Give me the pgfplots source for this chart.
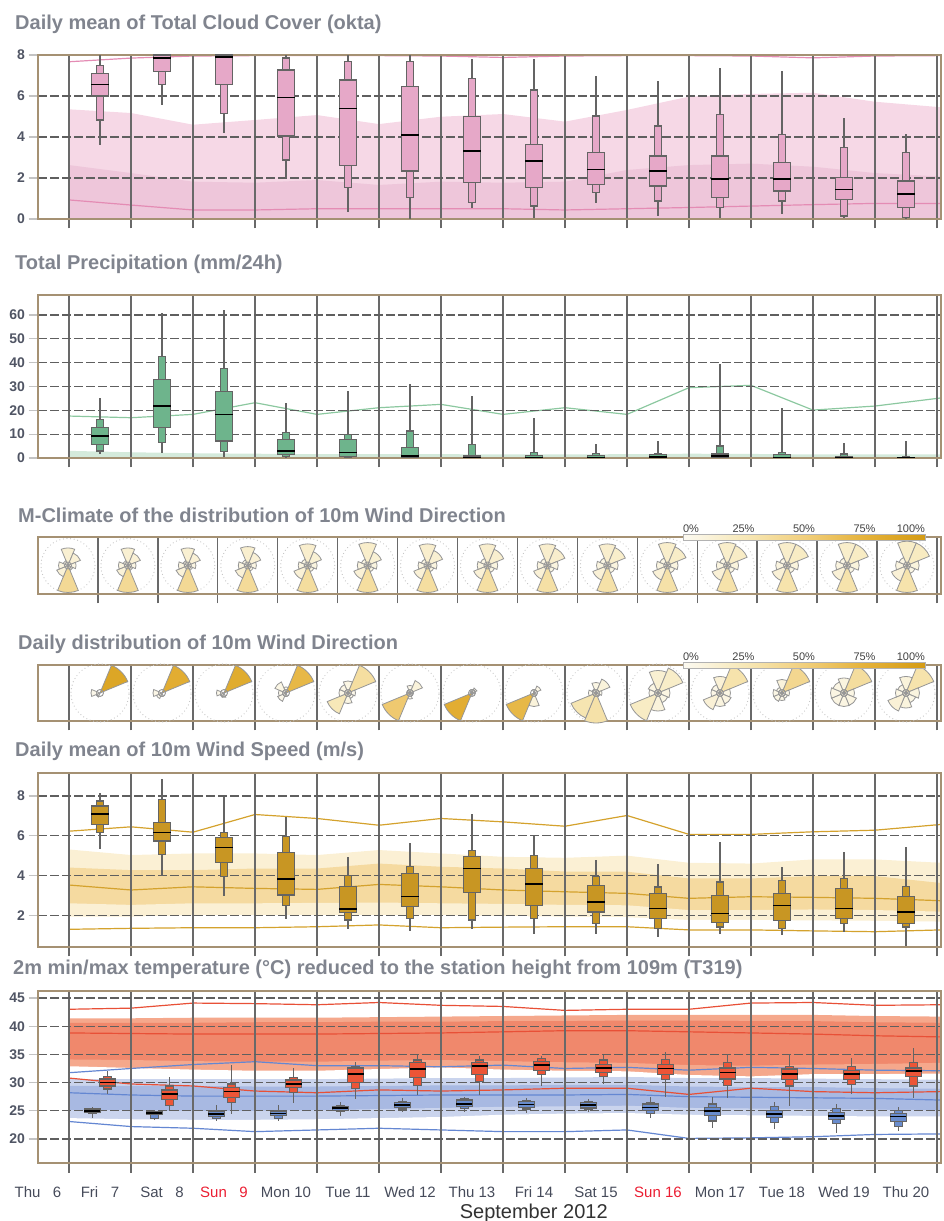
\documentclass[border=0pt]{standalone}
\usepackage{pgfplots}
\pgfplotsset{compat=1.18}
\usepackage{pgfplotstable}
\usepgfplotslibrary{statistics}
\usepackage{fontspec}
\setmainfont{Liberation Sans}

% ---------- colours ----------
\definecolor{framec}{RGB}{165,145,115}
\definecolor{vgrid}{RGB}{105,105,105}
\definecolor{hgrid}{RGB}{95,95,95}
\definecolor{ytickc}{RGB}{195,195,195}
\definecolor{ticktext}{RGB}{80,85,100}
\definecolor{titlec}{RGB}{128,132,142}
\definecolor{boxline}{RGB}{100,100,100}
\definecolor{cloudbox}{RGB}{230,168,200}
\definecolor{cloudlt}{RGB}{246,216,230}
\definecolor{clouddk}{RGB}{238,198,218}
\definecolor{cloudln}{RGB}{228,140,180}
\definecolor{precbox}{RGB}{110,180,140}
\definecolor{preclt}{RGB}{212,234,219}
\definecolor{precln}{RGB}{140,200,160}
\definecolor{windbox}{RGB}{200,150,35}
\definecolor{windlt}{RGB}{251,240,212}
\definecolor{winddk}{RGB}{245,218,160}
\definecolor{windln}{RGB}{212,162,45}
\definecolor{tmaxbox}{RGB}{236,85,55}
\definecolor{tminbox}{RGB}{105,140,205}
\definecolor{redlt}{RGB}{245,168,140}
\definecolor{reddk}{RGB}{240,136,108}
\definecolor{redln}{RGB}{232,80,55}
\definecolor{bluelt}{RGB}{202,212,237}
\definecolor{bluedk}{RGB}{168,185,226}
\definecolor{blueln}{RGB}{100,135,210}
\definecolor{rosegray}{RGB}{150,150,150}
\definecolor{sunred}{RGB}{235,30,50}
\definecolor{xlabc}{RGB}{70,75,90}
\definecolor{septc}{RGB}{50,50,50}

% ---------- ensemble statistics per day ----------
\pgfplotstableread{
x  min  p10  p25  med  p75  p90  max
1  3.60 4.83 6.00 6.55 7.10 7.50 8.00
2  5.55 6.55 7.20 7.85 8.00 8.00 8.00
3  4.20 5.15 6.55 7.90 8.00 8.00 8.00
4  2.00 2.88 4.05 5.92 7.27 7.85 8.00
5  0.36 1.53 2.59 5.40 6.78 7.67 8.00
6  0.00 1.04 2.34 4.10 6.45 7.67 8.00
7  0.54 0.81 1.77 3.32 4.99 6.86 7.79
8  0.05 0.63 1.53 2.83 3.64 6.29 7.79
9  0.77 1.28 1.69 2.42 3.24 5.02 6.98
10 0.15 0.88 1.61 2.34 3.07 4.54 6.73
11 0.05 0.55 1.04 1.94 3.07 5.11 7.38
12 0.23 0.88 1.37 1.94 2.75 4.13 7.22
13 0.05 0.15 0.96 1.45 2.02 3.48 4.94
14 0.00 0.06 0.55 1.22 1.85 3.24 4.13
}\cloudens

\pgfplotstableread{
x  min  p10  p25  med  p75  p90  max
1  1.5  2.9  5.7  9.2  12.7 16.2 25.3
2  2.0  6.4  12.7 21.8 33.0 42.5 60.7
3  0.5  2.7  7.1  18.3 27.8 37.6 62.1
4  0.4  0.5  1.5  2.9  7.8  10.6 23.2
5  0.0  0.2  0.5  2.2  7.8  9.9  28.1
6  0.0  0.1  0.3  0.8  4.3  11.3 30.9
7  0.0  0.0  0.1  0.3  0.8  5.7  26.0
8  0.0  0.0  0.1  0.2  1.0  2.2  16.9
9  0.0  0.0  0.1  0.3  1.0  1.9  5.7
10 0.0  0.0  0.2  0.5  1.3  1.9  7.1
11 0.0  0.0  0.2  0.8  1.7  5.0  39.3
12 0.0  0.0  0.1  0.3  1.3  2.2  21.1
13 0.0  0.0  0.1  0.2  0.5  1.7  6.4
14 0.0  0.0  0.0  0.1  0.2  0.5  7.1
}\precens

\pgfplotstableread{
x  min  p10  p25  med  p75  p90  max
1  5.31 6.17 6.57 7.09 7.50 7.75 8.13
2  3.98 5.06 5.74 6.17 6.68 7.82 8.88
3  2.98 3.93 4.64 5.41 5.91 6.17 7.95
4  1.79 2.48 3.02 3.82 5.14 5.98 6.92
5  1.31 1.76 2.13 2.31 3.43 3.98 4.94
6  1.22 1.84 2.43 2.93 4.10 4.44 5.66
7  1.31 1.76 3.15 4.36 4.94 5.24 7.09
8  1.07 1.82 2.49 3.58 4.34 5.01 5.98
9  1.07 1.57 2.16 2.66 3.50 3.93 4.77
10 0.90 1.32 1.82 2.33 3.08 3.42 4.60
11 1.07 1.41 1.64 2.08 3.00 3.67 5.69
12 0.98 1.32 1.74 2.49 3.08 3.75 4.44
13 1.16 1.57 1.82 2.33 3.33 3.83 5.18
14 0.45 1.41 1.59 2.16 2.93 3.43 5.43
}\windens

\pgfplotstableread{
x  min   p10   p25   med   p75   p90   max
1  23.8  24.6  24.7  25.0  25.3  25.4  25.7
2  23.5  23.6  24.4  24.65 24.85 24.9  25.0
3  23.2  23.6  23.95 24.4  24.85 25.0  26.0
4  23.2  23.7  24.1  24.5  24.85 25.0  26.0
5  24.1  24.9  25.1  25.45 25.7  25.9  26.6
6  24.7  25.3  25.55 26.0  26.5  26.7  27.2
7  24.7  25.4  25.7  26.2  26.9  27.1  27.5
8  24.55 25.3  25.55 26.15 26.6  26.8  27.2
9  24.7  25.3  25.5  26.0  26.5  26.7  27.1
10 23.8  24.55 25.0  25.6  26.2  26.5  27.5
11 22.0  23.2  24.1  24.96 25.6  26.2  27.5
12 21.7  22.9  23.8  24.4  25.1  25.7  26.5
13 21.1  22.7  23.4  24.1  24.7  25.45 26.15
14 21.4  22.2  23.1  23.95 24.55 25.1  25.7
}\tminens

\pgfplotstableread{
x  min   p10   p25   med   p75   p90   max
1  27.9  28.87 29.4  30.05 30.64 31.05 32.1
2  25.0  25.9  27.04 28.0  28.7  29.4  31.05
3  24.4  26.5  27.4  28.39 29.17 29.75 33.1
4  26.3  28.3  29.1  29.75 30.46 30.9  32.5
5  27.04 28.9  30.05 31.5  32.6  32.9  33.7
6  27.8  29.5  30.9  32.4  33.5  34.0  34.9
7  27.8  30.2  31.5  32.9  33.5  34.0  34.7
8  29.4  31.5  32.2  33.1  33.7  34.3  34.7
9  29.7  31.05 31.75 32.6  33.2  34.0  34.9
10 27.5  30.6  31.5  32.5  33.2  34.1  35.5
11 27.3  29.5  30.64 31.75 32.6  33.5  35.0
12 25.85 29.4  30.6  31.5  32.4  32.9  35.0
13 27.9  29.7  30.6  31.5  32.2  32.9  34.4
14 27.3  29.4  31.05 32.06 32.6  33.5  36.2
}\tmaxens

% ---------- model climate ----------
\pgfplotstableread{
x      mx   med  q75  q90
0.5    7.67 0.93 2.63 5.35
1.5    7.85 0.68 2.24 5.17
2.5    7.95 0.44 1.82 4.60
3.5    7.97 0.44 1.77 4.83
4.5    7.97 0.50 1.90 5.07
5.5    7.97 0.50 1.66 4.63
6.5    7.95 0.50 1.82 4.99
7.5    7.88 0.50 1.77 5.12
8.5    7.95 0.44 1.82 4.75
9.5    7.97 0.50 2.39 5.32
10.5   7.97 0.56 2.63 5.97
11.5   7.95 0.63 2.70 6.10
12.5   7.86 0.70 2.55 6.16
13.5   7.95 0.76 2.24 5.72
14.565 7.97 0.76 2.07 5.45
}\cloudclim

\pgfplotstableread{
x      hi  top
0.5    3.0 17.6
1.5    2.4 16.9
2.5    2.0 18.3
3.5    1.8 23.2
4.5    1.6 18.3
5.5    1.6 21.1
6.5    1.6 22.5
7.5    1.5 18.3
8.5    1.5 21.1
9.5    1.6 18.3
10.5   1.8 29.5
11.5   1.7 30.5
12.5   1.5 20.1
13.5   1.5 21.8
14.565 1.5 25.2
}\precclim

\pgfplotstableread{
x      mn   lo90 lo75 med  hi75 hi90 mx
0.5    1.29 1.93 2.60 3.52 4.40 5.31 6.23
1.5    1.34 1.93 2.52 3.27 4.27 5.03 6.45
2.5    1.37 2.01 2.60 3.43 4.27 5.11 6.18
3.5    1.37 2.01 2.60 3.35 4.35 5.11 7.07
4.5    1.42 2.01 2.62 3.30 4.35 5.03 6.87
5.5    1.51 2.01 2.64 3.55 4.60 5.28 6.53
6.5    1.37 2.01 2.60 3.43 4.44 5.11 6.87
7.5    1.40 1.96 2.57 3.27 4.35 4.94 6.70
8.5    1.42 1.93 2.52 3.18 4.20 4.89 6.48
9.5    1.42 1.90 2.50 3.10 4.19 5.00 7.02
10.5   1.26 1.76 2.26 2.85 3.85 4.64 6.07
11.5   1.26 1.76 2.26 2.93 3.85 4.60 6.07
12.5   1.21 1.74 2.29 2.90 3.97 4.81 6.20
13.5   1.17 1.72 2.26 2.85 3.97 4.81 6.28
14.565 1.26 1.68 2.18 2.73 3.62 4.64 6.57
}\windclim

\pgfplotstableread{
x      rmn   rlo90 rlo75 rmed rhi75 rhi90 rmx  bmn  blo90 blo75 bmed bhi75 bhi90 bmx
0.5    30.8  32.9  34.1  38.8 40.6  41.4  43.0 23.1 23.7  25.1  28.2 29.4  30.6  31.75
1.5    29.75 32.6  34.0  38.7 40.6  41.4  43.2 22.2 23.5  25.1  27.8 29.4  30.6  32.5
2.5    29.4  32.3  33.8  38.6 40.6  41.5  44.1 21.9 23.4  25.0  27.6 29.4  30.6  33.2
3.5    28.5  32.1  33.7  38.6 40.7  41.5  44.0 21.3 23.4  25.0  27.6 29.3  30.6  33.7
4.5    28.2  32.1  33.7  38.6 40.7  41.5  43.8 21.6 23.5  25.1  27.6 29.3  30.6  33.0
5.5    28.7  32.4  33.9  38.7 40.8  41.6  44.2 21.9 23.7  25.3  27.7 29.4  30.7  33.0
6.5    28.5  32.7  34.0  38.8 40.8  41.7  43.7 21.6 23.9  25.5  27.8 29.5  30.8  32.8
7.5    28.7  32.3  33.8  39.0 40.9  41.8  43.5 21.3 24.3  25.7  27.8 29.5  30.8  33.1
8.5    29.0  32.1  33.6  39.2 40.9  41.9  42.8 21.3 24.5  25.8  27.8 29.6  30.9  32.5
9.5    29.0  32.0  33.5  39.2 41.0  42.0  43.0 21.6 24.6  25.9  27.9 29.6  31.0  32.7
10.5   27.9  31.35 33.1  39.0 41.0  42.0  43.0 20.1 24.3  25.5  27.5 29.3  30.8  32.2
11.5   29.0  31.1  33.0  38.8 40.9  42.0  44.1 20.2 24.2  25.4  27.4 29.2  30.8  32.7
12.5   28.4  31.5  33.2  38.6 40.9  42.0  44.2 20.4 24.1  25.3  27.3 29.2  30.7  32.5
13.5   28.2  31.5  33.3  38.3 40.7  41.8  43.7 20.8 24.0  25.2  27.2 29.0  30.6  32.2
14.565 28.4  31.6  33.5  38.1 40.6  41.7  43.8 20.9 24.0  25.1  26.9 28.9  30.5  32.1
}\tempclim

% ---------- wind direction roses (r: share of longest petal, p: frequency in %) ----------
\pgfplotstableread{
x    rN   rNE  rE   rSE  rS rSW  rW   rNW  pN pNE pE pSE pS pSW pW pNW
0.5  0.65 0.50 0.30 0.20 1  0.45 0.35 0.20 14 12  7  5   40 11  8  5
1.5  0.65 0.50 0.30 0.20 1  0.45 0.35 0.20 14 12  7  5   40 11  8  5
2.5  0.65 0.50 0.30 0.20 1  0.47 0.35 0.20 14 12  7  5   40 11  8  5
3.5  0.70 0.52 0.32 0.22 1  0.50 0.35 0.22 15 12  7  5   38 12  8  5
4.5  0.80 0.55 0.35 0.25 1  0.55 0.35 0.25 16 13  8  6   36 12  8  6
5.5  0.85 0.55 0.35 0.25 1  0.55 0.38 0.25 17 13  8  6   35 12  8  6
6.5  0.80 0.60 0.35 0.25 1  0.55 0.35 0.25 16 14  8  6   35 12  8  6
7.5  0.80 0.65 0.38 0.28 1  0.55 0.38 0.28 16 15  8  6   34 12  8  6
8.5  0.80 0.70 0.40 0.28 1  0.55 0.38 0.28 16 16  8  6   33 12  8  6
9.5  0.80 0.72 0.40 0.30 1  0.58 0.40 0.30 16 17  8  6   32 12  8  6
10.5 0.85 0.75 0.40 0.30 1  0.58 0.40 0.30 17 18  8  6   32 12  8  6
11.5 0.85 0.80 0.42 0.30 1  0.60 0.40 0.30 17 19  9  6   31 12  8  6
12.5 0.85 0.85 0.42 0.30 1  0.60 0.42 0.30 17 20  9  6   30 12  8  6
13.5 0.85 0.85 0.45 0.30 1  0.60 0.42 0.30 17 20  9  6   30 12  8  6
14.5 0.90 0.90 0.45 0.32 1  0.62 0.42 0.32 18 21  9  6   30 12  8  6
}\mclimrose

\pgfplotstableread{
x  rN   rNE  rE   rSE  rS   rSW  rW   rNW  pN pNE pE pSE pS pSW pW pNW
1  0    1    0    0    0    0.15 0.30 0    0  88  0  0   0  3   4  0
2  0    1    0    0    0.12 0.20 0.30 0    0  80  0  0   2  3   5  0
3  0    1    0    0    0.15 0.15 0.25 0    0  82  0  0   2  2   4  0
4  0.20 1    0    0    0.12 0.30 0.25 0.40 3  70  0  0   2  4   4  6
5  0.40 1    0.25 0.20 0.35 0.75 0.30 0.30 6  35  4  3   6  25  5  5
6  0.25 0.45 0.10 0.10 0.20 1    0.10 0.10 4  10  2  2   3  55  2  2
7  0.12 0.18 0.10 0    0.08 1    0    0.08 2  4   2  0   1  80  0  1
8  0.12 0.25 0    0.10 0.45 1    0    0    2  5   0  2   10 70  0  0
9  0.35 0.50 0.20 0.15 1    0.90 0.25 0.15 6  10  3  2   32 28  4  2
10 0.75 0.90 0.40 0.35 0.60 1    0.30 0.35 14 18  7  6   10 20  5  6
11 0.55 1    0.35 0.40 0.45 0.60 0.30 0.30 12 30  6  7   8  12  5  5
12 0.45 1    0.25 0.20 0.25 0.30 0.30 0.20 10 42  5  4   5  6   6  4
13 0.50 1    0.35 0.45 0.45 0.45 0.45 0.40 8  36  6  7   7  7   7  6
14 0.55 1    0.45 0.35 0.50 0.65 0.35 0.30 10 30  8  6   9  12  6  5
}\dailyrose

% ---------- plot marks and helpers ----------
\pgfdeclareplotmark{petal}{%
  \pgfmathsetmacro\petalA{90-\pdir-22.5}%
  \pgfmathsetmacro\petalB{90-\pdir+22.5}%
  \pgfpathmoveto{\pgfpointorigin}%
  \pgfpathlineto{\pgfpointpolar{\petalA}{\prad pt}}%
  \pgfpatharc{\petalA}{\petalB}{\prad pt}%
  \pgfpathclose
  \pgfusepathqfillstroke
}

\pgfplotsset{
  colormap={windgold}{rgb255=(252,250,242) rgb255=(247,232,184) rgb255=(241,207,125) rgb255=(229,178,58) rgb255=(212,155,20)},
  panel/.style={
    scale only axis, width=903pt, anchor=south west,
    xmin=0, xmax=14.565,
    xtick={0.5,1.5,...,14.5}, xticklabels={},
    xmajorgrids, ymajorgrids,
    major x grid style={draw=vgrid, line width=1.4pt},
    major y grid style={draw=hgrid, line width=1.3pt, dash pattern=on 9pt off 3pt},
    axis line style={draw=framec, line width=1.5pt},
    tick align=outside, xtick pos=left, ytick pos=left,
    major tick length=9.5pt,
    x tick style={draw=vgrid, line width=1.4pt},
    y tick style={draw=ytickc, line width=1.3pt},
    /pgf/number format/assume math mode=true,
    yticklabel style={font=\bfseries\fontsize{14}{16}\selectfont, text=ticktext},
  },
  bandaxis/.style={scale only axis, width=903pt, anchor=south west, xmin=0, xmax=14.565, hide axis},
  ensbox/.style={draw=boxline, line width=1.2pt,
    boxplot/draw direction=y,
    boxplot/whisker extend=0,
    boxplot/every median/.style={draw=black, line width=1.5pt},
    boxplot/every whisker/.style={draw=boxline}},
  roseaxis/.style={
    ymin=0, ymax=1, ytick=\empty, ymajorgrids=false,
    colormap name=windgold, point meta min=0, point meta max=100,
    colorbar horizontal,
    colorbar style={
      at={(parent axis.north east)}, anchor=south east, xshift=-16pt, yshift=5pt,
      scale only axis, width=242pt, height=6pt,
      xtick={0,25,50,75,100},
      xticklabels={\makebox[0pt][l]{0\%},25\%,50\%,75\%,\makebox[0pt][r]{100\%}},
      xticklabel pos=right, major tick length=0pt, ytick=\empty,
      xticklabel style={font=\fontsize{11}{13}\selectfont, text=black!75, inner sep=2pt},
      axis line style={draw=gray!60, line width=0.8pt},
    },
  },
}

% one petal direction for every rose of a table
\newcommand\petals[4]{%
  \addplot[scatter, only marks, mark=petal, line width=0.8pt,
    scatter/use mapped color={draw=rosegray, fill=mapped color},
    point meta=\thisrow{p#2},
    visualization depends on={#4*\thisrow{r#2} \as \prad},
    visualization depends on={#3 \as \pdir},
    restrict expr to domain={\thisrow{r#2}}{0.01:2}]
    table[x=x, y expr=0.5] {#1};
}
\newcommand\rose[2]{% #1 table, #2 radius of the longest petal
  \petals{#1}{N}{0}{#2}\petals{#1}{NE}{45}{#2}\petals{#1}{E}{90}{#2}\petals{#1}{SE}{135}{#2}%
  \petals{#1}{S}{180}{#2}\petals{#1}{SW}{225}{#2}\petals{#1}{W}{270}{#2}\petals{#1}{NW}{315}{#2}%
  \addplot[only marks, mark=o, mark size=3.5pt, mark options={draw=rosegray, line width=0.9pt}]
    table[x=x, y expr=0.5] {#1};
}

% ensemble box: whiskers min-max, narrow box p10-p90, wide box p25-p75, median line
\newcommand\ensboxes[5]{% #1 table, #2 x offset, #3 wide width, #4 narrow width, #5 fill
  \pgfplotstablegetrowsof{#1}%
  \pgfmathtruncatemacro\ensLast{\pgfplotsretval-1}%
  \pgfplotsforeachungrouped \ensI in {0,...,\ensLast}{%
    \pgfplotstablegetelem{\ensI}{x}\of{#1}\let\eX\pgfplotsretval
    \pgfplotstablegetelem{\ensI}{min}\of{#1}\let\eMin\pgfplotsretval
    \pgfplotstablegetelem{\ensI}{p10}\of{#1}\let\eTen\pgfplotsretval
    \pgfplotstablegetelem{\ensI}{p25}\of{#1}\let\eQa\pgfplotsretval
    \pgfplotstablegetelem{\ensI}{med}\of{#1}\let\eMed\pgfplotsretval
    \pgfplotstablegetelem{\ensI}{p75}\of{#1}\let\eQc\pgfplotsretval
    \pgfplotstablegetelem{\ensI}{p90}\of{#1}\let\eNin\pgfplotsretval
    \pgfplotstablegetelem{\ensI}{max}\of{#1}\let\eMax\pgfplotsretval
    \pgfmathsetmacro\ePos{\eX+(#2)}%
    \edef\ensCmd{%
      \noexpand\addplot[ensbox, boxplot/box extend=#4,
        boxplot/every box/.style={fill=#5,draw=boxline},
        boxplot/draw/median/.code={},
        boxplot prepared={draw position=\ePos, lower whisker=\eMin, lower quartile=\eTen,
          median=\eMed, upper quartile=\eNin, upper whisker=\eMax}] coordinates {};%
      \noexpand\addplot[ensbox, boxplot/box extend=#3,
        boxplot/every box/.style={fill=#5,draw=boxline},
        boxplot prepared={draw position=\ePos, lower whisker=\eQa, lower quartile=\eQa,
          median=\eMed, upper quartile=\eQc, upper whisker=\eQc}] coordinates {};%
    }%
    \ensCmd
  }%
}

\tikzset{paneltitle/.style={anchor=base west, inner sep=0pt, font=\bfseries\fontsize{20}{24}\selectfont, text=titlec}}

\begin{document}
\begin{tikzpicture}
\useasboundingbox (0pt,0pt) rectangle (943pt,1221pt);

% ---------------- titles ----------------
\node[paneltitle] at (15pt,1191pt) {Daily mean of Total Cloud Cover (okta)};
\node[paneltitle] at (15pt,951pt) {Total Precipitation (mm/24h)};
\node[paneltitle] at (18pt,698pt) {M-Climate of the distribution of 10m Wind Direction};
\node[paneltitle] at (18pt,571pt) {Daily distribution of 10m Wind Direction};
\node[paneltitle] at (15pt,464pt) {Daily mean of 10m Wind Speed (m/s)};
\node[paneltitle] at (13pt,246pt) {2m min/max temperature (°C) reduced to the station height from 109m (T319)};

% ---------------- cloud cover ----------------
\begin{axis}[bandaxis, at={(38pt,1002pt)}, height=164pt, ymin=0, ymax=8]
  \addplot[fill=cloudlt, draw=none] table[x=x, y=q90] {\cloudclim} \closedcycle;
  \addplot[fill=clouddk, draw=none] table[x=x, y=q75] {\cloudclim} \closedcycle;
  \addplot[cloudln, line width=1.2pt] table[x=x, y=med] {\cloudclim};
  \addplot[cloudln, line width=1.2pt] table[x=x, y=mx] {\cloudclim};
\end{axis}
\begin{axis}[panel, at={(38pt,1002pt)}, height=164pt, ymin=0, ymax=8, ytick={0,2,4,6,8}]
  \ensboxes{\cloudens}{0}{0.275}{0.12}{cloudbox}
\end{axis}

% ---------------- precipitation ----------------
\begin{axis}[bandaxis, at={(38pt,763pt)}, height=163pt, ymin=0, ymax=68.4]
  \addplot[fill=preclt, draw=none] table[x=x, y=hi] {\precclim} \closedcycle;
  \addplot[precln, line width=1.2pt] table[x=x, y=top] {\precclim};
\end{axis}
\begin{axis}[panel, at={(38pt,763pt)}, height=163pt, ymin=0, ymax=68.4, ytick={0,10,...,60}]
  \ensboxes{\precens}{0}{0.275}{0.12}{precbox}
\end{axis}

% ---------------- M-climate wind direction ----------------
\begin{axis}[panel, roseaxis, at={(38pt,627pt)}, height=57pt, xmax=15.068, xtick={1,...,15}]
  \addplot[only marks, mark=o, mark size=27pt,
    mark options={draw=black!22, line width=1.3pt, dash pattern=on 0.01pt off 3.6pt, line cap=round}]
    table[x=x, y expr=0.5] {\mclimrose};
  \rose{\mclimrose}{27}
\end{axis}

% ---------------- daily wind direction ----------------
\begin{axis}[panel, roseaxis, at={(38pt,500pt)}, height=56pt]
  \addplot[only marks, mark=o, mark size=29pt,
    mark options={draw=black!22, line width=1.3pt, dash pattern=on 0.01pt off 3.6pt, line cap=round}]
    table[x=x, y expr=0.5] {\dailyrose};
  \rose{\dailyrose}{30}
\end{axis}

% ---------------- wind speed ----------------
\begin{axis}[bandaxis, at={(38pt,274pt)}, height=174pt, ymin=0.4, ymax=9.16]
  \addplot[fill=windlt, draw=none] table[x=x, y=hi90] {\windclim} \closedcycle;
  \addplot[fill=winddk, draw=none] table[x=x, y=hi75] {\windclim} \closedcycle;
  \addplot[fill=windlt, draw=none] table[x=x, y=lo75] {\windclim} \closedcycle;
  \addplot[fill=white, draw=none] table[x=x, y=lo90] {\windclim} \closedcycle;
  \addplot[windln, line width=1.2pt] table[x=x, y=med] {\windclim};
  \addplot[windln, line width=1.2pt] table[x=x, y=mn] {\windclim};
  \addplot[windln, line width=1.2pt] table[x=x, y=mx] {\windclim};
\end{axis}
\begin{axis}[panel, at={(38pt,274pt)}, height=174pt, ymin=0.4, ymax=9.16, ytick={2,4,6,8}]
  \ensboxes{\windens}{0}{0.275}{0.12}{windbox}
\end{axis}

% ---------------- temperature ----------------
\begin{axis}[bandaxis, at={(38pt,58pt)}, height=172pt, ymin=15.74, ymax=46.24]
  \addplot[fill=redlt, draw=none] table[x=x, y=rhi90] {\tempclim} \closedcycle;
  \addplot[fill=reddk, draw=none] table[x=x, y=rhi75] {\tempclim} \closedcycle;
  \addplot[fill=redlt, draw=none] table[x=x, y=rlo75] {\tempclim} \closedcycle;
  \addplot[fill=white, draw=none] table[x=x, y=rlo90] {\tempclim} \closedcycle;
  \addplot[fill=bluelt, draw=none] table[x=x, y=bhi90] {\tempclim} \closedcycle;
  \addplot[fill=bluedk, draw=none] table[x=x, y=bhi75] {\tempclim} \closedcycle;
  \addplot[fill=bluelt, draw=none] table[x=x, y=blo75] {\tempclim} \closedcycle;
  \addplot[fill=white, draw=none] table[x=x, y=blo90] {\tempclim} \closedcycle;
  \addplot[redln, line width=1.2pt] table[x=x, y=rmed] {\tempclim};
  \addplot[redln, line width=1.2pt] table[x=x, y=rmn] {\tempclim};
  \addplot[redln, line width=1.2pt] table[x=x, y=rmx] {\tempclim};
  \addplot[blueln, line width=1.2pt] table[x=x, y=bmed] {\tempclim};
  \addplot[blueln, line width=1.2pt] table[x=x, y=bmn] {\tempclim};
  \addplot[blueln, line width=1.2pt] table[x=x, y=bmx] {\tempclim};
\end{axis}
\begin{axis}[panel, at={(38pt,58pt)}, height=172pt, ymin=15.74, ymax=46.24, ytick={20,25,...,45},
    extra x ticks={0,1,...,14},
    extra x tick labels={Thu \hphantom{0}6, Fri \hphantom{0}7, Sat \hphantom{0}8, \textcolor{sunred}{Sun \hphantom{0}9},
      Mon 10, Tue 11, Wed 12, Thu 13, Fri 14, Sat 15, \textcolor{sunred}{Sun 16}, Mon 17, Tue 18, Wed 19, Thu 20},
    extra x tick style={grid=none, major tick length=0pt,
      xticklabel style={anchor=base, yshift=-34pt, font=\fontsize{15}{18}\selectfont, text=xlabc}},
    xlabel={September 2012},
    xlabel style={at={(axis description cs:0.549,0)}, anchor=base, yshift=-55pt,
      font=\fontsize{20}{24}\selectfont, text=septc}]
  \ensboxes{\tminens}{-0.125}{0.26}{0.13}{tminbox}
  \ensboxes{\tmaxens}{0.125}{0.26}{0.13}{tmaxbox}
\end{axis}
\end{tikzpicture}
\end{document}
